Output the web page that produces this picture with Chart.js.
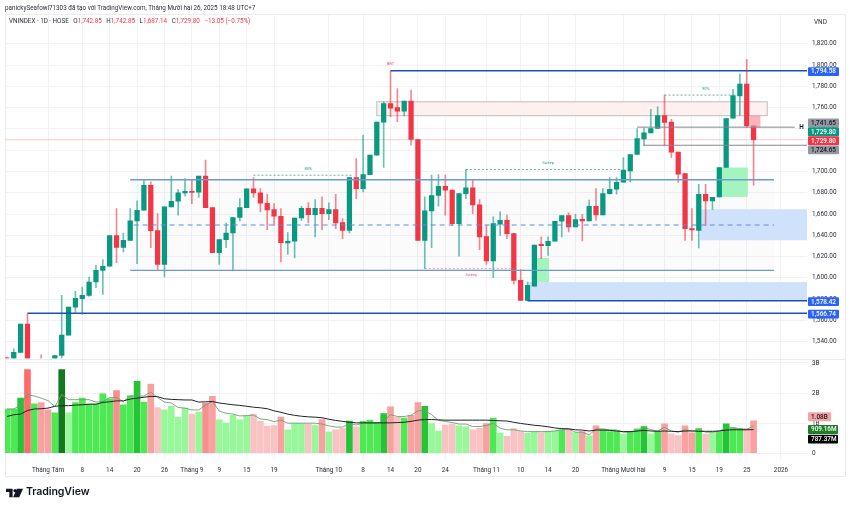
<!DOCTYPE html>
<html lang="vi">
<head>
<meta charset="utf-8">
<title>VNINDEX</title>
<script src="https://cdn.jsdelivr.net/npm/chart.js@4"></script>
<style>
  html, body { margin: 0; padding: 0; background: #fff; }
  #wrap { position: relative; width: 850px; height: 508px; overflow: hidden; font-family: Roboto, sans-serif; color: #131722; }
  canvas { position: absolute; left: 0; top: 0; }
  .txt { position: absolute; white-space: nowrap; }
  #credit { left: 5px; top: 4px; font-size: 6.3px; line-height: 8px; color: #2a2e39; }
  #legend { left: 9px; top: 17px; font-size: 6.3px; line-height: 8px; color: #2a2e39; }
  #legend b { font-weight: 400; color: #f23645; }
  #legend i { font-style: normal; margin-left: 3px; }
  #unit { left: 814px; top: 18px; font-size: 6.4px; line-height: 8px; color: #2a2e39; }
  #logo { position: absolute; left: 6px; top: 488px; }
  #brand { left: 26px; top: 485px; font: 600 10.6px/14px Inter, sans-serif; color: #131722; letter-spacing: -0.1px; }
</style>
</head>
<body>
<div id="wrap">
  <canvas id="chart" width="850" height="508"></canvas>
  <div class="txt" id="credit">panickySeafowl71303 đã tạo với TradingView.com, Tháng Mười hai 26, 2025 18:48 UTC+7</div>
  <div class="txt" id="legend">VNINDEX · 1D · HOSE <i>O<b>1,742.85</b></i> <i>H<b>1,742.85</b></i> <i>L<b>1,687.14</b></i> <i>C<b>1,729.80</b></i> <i><b>−13.05 (−0.75%)</b></i></div>
  <div class="txt" id="unit">VND</div>
  <svg id="logo" width="17" height="10" viewBox="0 0 36 18"><path d="M0 0h14v18H7V7H0zM15 18l8-18h13l-8 18z" fill="#131722"/><circle cx="19" cy="4" r="3.4" fill="#131722"/></svg>
  <div class="txt" id="brand">TradingView</div>
</div>
<script>
// candles, one row per session, null = below the visible part of the price pane
const opens = [
  1524.8,1524.3,1529.9,1556.5,null,null,null,1524.3,1527,1546.2,
  1572.5,1580.4,1583.6,1596.1,1607,1610.9,1639.7,1628.7,1635.3,1653.5,
  1663.5,1687,1644.4,1612.7,1666.7,1672,1679.9,1681.4,1680.5,1695.6,
  1666,1623.7,1636,1642.2,1656.7,1666,1683.6,1679.9,1670.1,1664.2,
  1657.9,1632.8,1634.4,1656.3,1665.4,1659.5,1665.4,1660.4,1664.2,1651.9,
  1644.7,1694.3,1683.9,1697.1,1715.3,1746.3,1763.9,1760.1,1756.7,1766.1,
  1730,1635.3,1662.9,1677.4,1686.1,1682.4,1651,1679.2,1684.6,1668.6,
  1638.8,1615.9,1650.4,1654.1,1641.6,1597.7,1578.9,1592.3,1631.6,1630.3,
  1634.4,1653.2,1658.5,1647.9,1655.1,1653.5,1667.3,1659.2,1679.2,1683.3,
  1689.9,1700.5,1715.9,1730.7,1736.3,1740.4,1752.6,1746.3,1718.1,1698,
  1646.3,1644.7,1678.6,1672.3,1676.1,1703.7,1750.1,1771.1,1782.1,1742.85
];
const closes = [
  1524.5,1529.9,1556.5,1524.3,null,null,null,1527,1546.2,1572.5,
  1580.7,1583.6,1596.1,1607,1610.9,1639.7,1628.7,1635.3,1653.5,1663.5,
  1687,1644.4,1612.7,1666.7,1672,1679.9,1681.4,1680.2,1695.6,1666,
  1623.7,1636,1642.2,1656.7,1666,1683.6,1679.9,1670.1,1663.9,1657.9,
  1633.1,1634.4,1656.3,1665.4,1659.5,1665.4,1660.4,1664.2,1651.6,1644.7,
  1694.3,1683.9,1697.1,1715.3,1746.3,1763.9,1759.5,1756.7,1766.1,1730,
  1635.3,1662.9,1677.4,1686.1,1682.4,1651,1679.2,1684.6,1668.6,1638.5,
  1615.9,1651,1654.1,1641.6,1597.7,1578.9,1593,1630.9,1630.3,1634.4,
  1653.2,1658.5,1647.9,1654.8,1653.5,1667.3,1659.2,1679.2,1683.3,1689.9,
  1701.2,1715.9,1731,1736.3,1740.4,1752.6,1746,1718.1,1697.4,1646.3,
  1645,1678.6,1672.3,1675.8,1703.7,1749.8,1771.4,1782.1,1742.85,1729.8
];
const highs = [
  1525.5,1533.3,1556.5,1566.2,null,1527.7,null,1527,1583.5,1572.5,
  1587.3,1591.4,1600.8,1611.8,1617.1,1639.7,1665.1,1642.2,1665.1,1672.3,
  1692.4,1690.2,1660.4,1666.7,1695.6,1683,1693.4,1692.4,1695.6,1710.6,
  1666,1636,1651.6,1656.7,1674.5,1683.6,1694.3,1684,1678.6,1669.8,
  1665.1,1642.5,1656.3,1667.3,1670.8,1673.6,1676.1,1670.5,1678.6,1655.7,
  1694.3,1712.1,1734.1,1715.3,1746.3,1765.5,1794.7,1778,1766.1,1776.5,
  1730,1676.1,1696.5,1697.1,1696.5,1682.4,1679.2,1701.8,1691.8,1673.6,
  1649.4,1657.3,1662,1658.9,1641.6,1607.7,1596.1,1630.9,1638.5,1638.5,
  1653.2,1658.5,1661,1659.8,1659.8,1673,1684,1684,1694.3,1694.3,
  1713.1,1715.9,1740.4,1741,1758.3,1760.8,1771.8,1748.9,1718.1,1698,
  1665.1,1688,1688,1675.8,1703.7,1749.8,1777.1,1791.5,1805.3,1742.85
];
const lows = [
  1524.3,1524.3,1529.9,1524.3,null,1524.3,null,1524.3,1524.3,1546.2,
  1567.5,1565.7,1582.6,1590.8,1584.5,1610.9,1614.3,1624.3,1635.3,1613.4,
  1663.5,1628.4,1607,1600.8,1666.7,1658.9,1677,1669.8,1675.5,1666,
  1623.7,1612.7,1628.4,1607,1653.5,1666,1675.5,1662,1645.4,1649.4,
  1614.9,1622.1,1618.7,1654.1,1651.6,1638.5,1645.4,1654.8,1646.3,1636.9,
  1642.2,1674.5,1680.8,1697.1,1715.3,1703.7,1751.4,1746.7,1752.3,1724.7,
  1635.3,1608.7,1628.4,1667.3,1658.9,1649.4,1620.3,1674.5,1660.4,1626.5,
  1612.7,1600.2,1640,1636.9,1594,1578.9,1578.9,1592.3,1618,1621.2,
  1634.4,1638.5,1643.2,1647.9,1634.7,1653.5,1654.1,1659.2,1678.6,1678.6,
  1689.9,1690.2,1715.9,1724,1736.3,1740.4,1724,1713.1,1689.6,1635.3,
  1635.3,1628.1,1649.4,1664.2,1676.1,1703.7,1750.1,1752.6,1741.3,1687.14
];

// volume in billions, plus the heat level of each column (sign = up or down session)
const volumes = [
  1.47,1.47,1.83,2.78,1.64,1.68,1.44,1.34,2.78,1.34,
  1.68,1.83,1.63,1.63,1.97,1.81,2.08,1.61,1.92,2.39,
  1.7,2.3,1.52,1.44,1.56,1.19,1.5,1.3,1.37,1.67,
  1.89,1.11,1.0,1.26,1.11,1.24,1.3,1.06,0.9,0.92,
  1.2,0.78,0.99,0.99,0.97,0.92,1.12,0.71,0.78,0.83,
  1.07,0.88,1.06,1.1,1.03,1.32,1.54,1.19,1.17,1.26,
  1.68,1.56,0.99,0.74,0.94,0.97,0.91,0.88,0.78,0.83,
  0.99,1.17,0.67,0.56,0.82,0.72,0.66,0.71,0.69,0.72,
  0.74,0.77,0.81,0.69,0.72,0.58,0.91,0.79,0.72,0.74,
  0.64,0.7,0.81,0.89,0.65,0.72,0.98,0.65,0.59,0.91,
  0.68,0.83,0.64,0.69,0.72,0.98,0.85,0.83,0.83,1.08
];
const volumeHeat = [
  2,2,3,-4,2,-2,-2,2,4,1,
  2,2,2,2,2,2,-3,2,2,3,
  2,-2,-1,1,1,1,1,-1,1,-3,
  -2,1,1,1,1,1,-1,-1,-1,-1,
  -2,1,1,1,-1,1,-2,1,-1,-1,
  3,-1,2,2,2,3,-2,-1,2,-2,
  -2,3,1,1,-1,-1,1,1,-1,-1,
  -2,2,1,-1,-1,-1,1,1,-1,1,
  1,2,-1,1,-2,1,-2,2,2,2,
  1,2,2,3,1,2,-2,-1,-1,-2,
  -2,2,-1,1,2,3,2,2,-1,-2
];
const volumeMaShort = [
  1.47,1.47,1.6,1.95,1.9,1.83,1.75,1.55,1.95,1.78,
  1.78,1.78,1.78,1.7,1.72,1.85,1.85,1.72,1.9,1.9,
  1.9,2.03,1.85,1.7,1.67,1.52,1.5,1.44,1.44,1.6,
  1.72,1.4,1.33,1.3,1.24,1.25,1.27,1.14,1.12,1.05,
  1.1,1.0,1.0,1.0,1.0,1.0,0.97,0.91,0.87,0.87,
  0.98,0.94,1.0,1.0,1.0,1.06,1.28,1.22,1.22,1.26,
  1.41,1.42,1.28,1.09,1.06,1.02,0.97,0.97,0.89,0.89,
  0.92,1.0,0.83,0.78,0.78,0.74,0.72,0.72,0.72,0.72,
  0.74,0.78,0.81,0.7,0.7,0.61,0.81,0.81,0.78,0.77,
  0.7,0.7,0.74,0.86,0.78,0.74,0.86,0.74,0.7,0.78,
  0.74,0.79,0.7,0.7,0.74,0.84,0.84,0.81,0.79,0.909
];
const volumeMaLong = [
  1.22,1.28,1.3,1.42,1.47,1.48,1.5,1.56,1.58,1.58,
  1.6,1.61,1.63,1.63,1.69,1.71,1.74,1.74,1.8,1.83,
  1.86,1.89,1.88,1.81,1.79,1.78,1.77,1.77,1.7,1.71,
  1.72,1.67,1.64,1.61,1.59,1.56,1.53,1.51,1.48,1.41,
  1.36,1.3,1.26,1.23,1.21,1.2,1.18,1.13,1.09,1.06,
  1.03,1.01,1.01,1.01,1.01,1.01,1.01,1.02,1.03,1.06,
  1.1,1.12,1.12,1.11,1.1,1.1,1.1,1.1,1.1,1.1,
  1.1,1.09,1.08,1.07,1.03,0.99,0.96,0.93,0.91,0.88,
  0.84,0.82,0.81,0.78,0.77,0.74,0.77,0.77,0.76,0.74,
  0.72,0.72,0.74,0.76,0.74,0.73,0.74,0.73,0.72,0.74,
  0.74,0.73,0.73,0.73,0.74,0.77,0.78,0.78,0.78,0.787
];

// axes
const tickIndexes = [6,11,15,19,23,27,31,35,39,47,52,56,60,64,70,75,79,83,90,96,100,104,108,113];
const tickLabels = ["Tháng Tám","8","14","20","26","Tháng 9","9","15","19","Tháng 10","8","14","20","24","Tháng 11","10","14","20","Tháng Mười hai","9","15","19","25","2026"];
const priceTicks = [1540,1560,1580,1600,1620,1640,1660,1680,1700,1720,1740,1760,1780,1800,1820];
const volumeTicks = [0,1,2,3];
const volumeTickLabels = ["0","1B","2B","3B"];

// drawings, in session index and price units: [from, to, low, high] or [from, to, price]
const X_MIN = -0.28, X_MAX = 116.8;
const rangeBox = [18, 112, 1607, 1692.2];
const supplyZone = [54, 111, 1752.4, 1765.5];
const smallSupply = [108.5, 110, 1741.3, 1752.6];
const gapZones = [[104.35, 108.15, 1676.1, 1703.7], [76.7, 79.15, 1596, 1618.7]];
const demandZones = [[101.2, X_MAX, 1635.3, 1664.5], [76, X_MAX, 1578.42, 1596]];
const keyLevels = [[56, X_MAX, 1794.58], [76, X_MAX, 1578.42], [3, X_MAX, 1566.74]];
const rangeLevels = [[18, 112, 1692.2], [18, 112, 1607]];
const rangeMid = [18.5, 112, 1649.7];
const swingLevels = [[92, 115, 1741.65], [93, X_MAX, 1724.65]];
const lastClose = 1729.8;
const greenDotted = [[36, 50.4, 1696.5], [67, 89.5, 1701.9], [96, 106.5, 1771.8]];
const redDotted = [[61, 74, 1608.6]];
const greenNotes = [["80%", 44, 1702.4], ["Sweep", 79, 1707.8], ["90%", 102, 1777.4]];
const redNotes = [["BBT", 56, 1801.4], ["Sweep", 67.8, 1603]];

// value tags on the right axis
const priceTags = ["1,794.58","1,741.65","1,729.80","1,729.80","1,724.65","1,578.42","1,566.74"];
const priceTagValues = [1794.58,1741.65,1729.8,1729.8,1724.65,1578.42,1566.74];
const priceTagShift = [0.7,-4.3,-8,1,4.7,0.9,0.9];
const priceTagFill = ["#2962ff","#9598a1","#089981","#f23645","#9598a1","#2962ff","#2962ff"];
const priceTagInk = ["#fff","#131722","#fff","#fff","#131722","#fff","#fff"];
const volumeTags = ["1.08B","909.16M","787.37M"];
const volumeTagValues = [1.08,0.909,0.787];
const volumeTagShift = [-4,3.6,9.6];
const volumeTagFill = ["#f5a3a3","#1b7f24","#000000"];
const volumeTagInk = ["#131722","#fff","#fff"];
const volumeTagWidth = [23, 30, 30];

const GREEN = "#089981";
const RED = "#f23645";
const HEAT = { "4": "#14781c", "3": "#24c436", "2": "#4fe855", "1": "#97f79a",
  "-1": "#f9c3c3", "-2": "#f9a0a0", "-3": "#f78f8f", "-4": "#ff6a6a" };

function sessions(fn) {
    const out = [];
    opens.forEach((o, i) => {
        const row = fn(i);
        if (row) out.push(row);
    });
    return out;
}

const bodies = sessions(i => opens[i] === null ? null : { x: i, y: [opens[i], closes[i]], up: closes[i] >= opens[i] });
const wicks = sessions(i => highs[i] === null ? null : { x: i, y: [lows[i], highs[i]], up: opens[i] === null ? false : closes[i] >= opens[i] });

function drawBox(ctx, x, y, box, fill) {
    const left = x.getPixelForValue(box[0]);
    const right = x.getPixelForValue(box[1]);
    const top = y.getPixelForValue(box[3]);
    const bottom = y.getPixelForValue(box[2]);
    ctx.fillStyle = fill;
    ctx.fillRect(left, top, right - left, bottom - top);
    return { left, right, top, bottom };
}

function drawLevel(ctx, x, y, lvl, color, width, dash) {
    ctx.save();
    ctx.strokeStyle = color;
    ctx.lineWidth = width;
    ctx.setLineDash(dash || []);
    ctx.beginPath();
    ctx.moveTo(x.getPixelForValue(lvl[0]), y.getPixelForValue(lvl[2]));
    ctx.lineTo(x.getPixelForValue(lvl[1]), y.getPixelForValue(lvl[2]));
    ctx.stroke();
    ctx.restore();
}

function drawTag(ctx, scale, text, value, shift, fill, ink, width) {
    const cy = scale.getPixelForValue(value) + shift;
    ctx.fillStyle = fill;
    ctx.beginPath();
    ctx.roundRect(808, cy - 4.4, width, 8.8, 1);
    ctx.fill();
    ctx.fillStyle = ink;
    ctx.font = "500 6.4px Roboto, sans-serif";
    ctx.textAlign = "left";
    ctx.textBaseline = "middle";
    ctx.fillText(text, 811, cy + 0.3);
}

const underlay = {
    id: "underlay",
    beforeDatasetsDraw(chart) {
        const { ctx, scales: { x, y } } = chart;
        ctx.save();
        // pane frame
        ctx.strokeStyle = "#e9ebef";
        ctx.lineWidth = 1;
        ctx.strokeRect(5.5, 14.5, 840, 462);
        ctx.beginPath();
        ctx.moveTo(5, 359.5);
        ctx.lineTo(845, 359.5);
        ctx.stroke();

        drawBox(ctx, x, y, rangeBox, "rgba(120,130,150,0.03)");
        const sz = drawBox(ctx, x, y, supplyZone, "#fdf0ef");
        ctx.strokeStyle = "#bcbec3";
        ctx.strokeRect(sz.left, sz.top, sz.right - sz.left, sz.bottom - sz.top);
        gapZones.forEach(z => drawBox(ctx, x, y, z, "#a3f5bd"));
        demandZones.forEach(z => drawBox(ctx, x, y, z, "#cfe1fb"));
        drawLevel(ctx, x, y, [X_MIN, X_MAX, lastClose], "#f9c9cd", 1);
        ctx.restore();
    },
    afterDatasetsDraw(chart) {
        const { ctx, scales: { x, y, yVol } } = chart;
        ctx.save();
        drawBox(ctx, x, y, smallSupply, "rgba(244,140,148,0.65)");
        rangeLevels.forEach(l => drawLevel(ctx, x, y, l, "#6d9bcf", 1.4));
        drawLevel(ctx, x, y, rangeMid, "#5b8fe0", 1.2, [5, 4]);
        keyLevels.forEach(l => drawLevel(ctx, x, y, l, "#1d4fb8", 1.5));
        swingLevels.forEach(l => drawLevel(ctx, x, y, l, "#85888f", 1));
        greenDotted.forEach(l => drawLevel(ctx, x, y, l, "#4f9a85", 0.8, [2, 2]));
        redDotted.forEach(l => drawLevel(ctx, x, y, l, "#e58a92", 0.8, [2, 2]));

        ctx.font = "4px Roboto, sans-serif";
        ctx.textAlign = "center";
        ctx.textBaseline = "middle";
        ctx.fillStyle = "#2e9c83";
        greenNotes.forEach(n => ctx.fillText(n[0], x.getPixelForValue(n[1]), y.getPixelForValue(n[2])));
        ctx.fillStyle = "#f0606c";
        redNotes.forEach(n => ctx.fillText(n[0], x.getPixelForValue(n[1]), y.getPixelForValue(n[2])));

        ctx.fillStyle = "#131722";
        ctx.font = "600 6.4px Roboto, sans-serif";
        ctx.fillText("H", x.getPixelForValue(116), y.getPixelForValue(1741.65) + 0.7);

        priceTags.forEach((t, i) => drawTag(ctx, y, t, priceTagValues[i], priceTagShift[i], priceTagFill[i], priceTagInk[i], 31));
        volumeTags.forEach((t, i) => drawTag(ctx, yVol, t, volumeTagValues[i], volumeTagShift[i], volumeTagFill[i], volumeTagInk[i], volumeTagWidth[i]));
        ctx.restore();
    }
};

const tickFont = { family: "Roboto, sans-serif", size: 6.4 };

new Chart(document.getElementById("chart").getContext("2d"), {
    type: "bar",
    data: {
        datasets: [
            { type: "line", yAxisID: "yVol", data: volumeMaLong.map((v, i) => ({ x: i, y: v })),
              borderColor: "#1f2326", borderWidth: 1, pointRadius: 0, order: 1 },
            { type: "line", yAxisID: "yVol", data: volumeMaShort.map((v, i) => ({ x: i, y: v })),
              borderColor: "#6f9e72", borderWidth: 0.9, pointRadius: 0, order: 2 },
            { yAxisID: "y", data: bodies, grouped: false, barThickness: 4.6, order: 3,
              backgroundColor: c => c.raw.up ? GREEN : RED },
            { yAxisID: "y", data: wicks, grouped: false, barThickness: 1, order: 4,
              backgroundColor: c => c.raw.up ? "rgba(8,153,129,0.6)" : "rgba(242,54,69,0.6)" },
            { yAxisID: "yVol", data: volumes.map((v, i) => ({ x: i, y: v })), grouped: false, barThickness: 6, order: 5,
              backgroundColor: c => HEAT[volumeHeat[c.dataIndex]] }
        ]
    },
    options: {
        responsive: false,
        animation: false,
        layout: { padding: { left: 5, top: 14, right: 5, bottom: 32 } },
        plugins: { legend: { display: false }, tooltip: { enabled: false } },
        scales: {
            x: {
                type: "linear", bounds: "data", min: X_MIN, max: X_MAX, offset: false,
                grid: { color: "#f1f2f5", drawTicks: false, offset: false },
                border: { display: false },
                afterBuildTicks: s => { s.ticks = tickIndexes.map(v => ({ value: v })); },
                afterFit: s => { s.height = 16; },
                ticks: {
                    autoSkip: false, maxRotation: 0, padding: 7, color: "#2a2e39", font: tickFont,
                    callback: (v, i) => tickLabels[i]
                }
            },
            y: {
                type: "linear", position: "right", stack: "panes", stackWeight: 344.5, bounds: "data",
                min: 1524.2, max: 1848,
                grid: { color: "#f1f2f5", drawTicks: false },
                border: { display: false },
                afterBuildTicks: s => { s.ticks = priceTicks.map(v => ({ value: v })); },
                afterFit: s => { s.width = 38; },
                ticks: {
                    padding: 5, color: "#2a2e39", font: tickFont,
                    callback: v => v.toLocaleString("en-US", { minimumFractionDigits: 2 })
                }
            },
            yVol: {
                type: "linear", position: "right", stack: "panes", stackWeight: 101.5, bounds: "data",
                min: -0.223, max: 3.147,
                grid: { color: "#f1f2f5", drawTicks: false },
                border: { display: false },
                afterBuildTicks: s => { s.ticks = volumeTicks.map(v => ({ value: v })); },
                afterFit: s => { s.width = 38; },
                ticks: {
                    padding: 5, color: "#2a2e39", font: tickFont,
                    callback: (v, i) => volumeTickLabels[i]
                }
            }
        }
    },
    plugins: [underlay]
});
</script>
</body>
</html>
